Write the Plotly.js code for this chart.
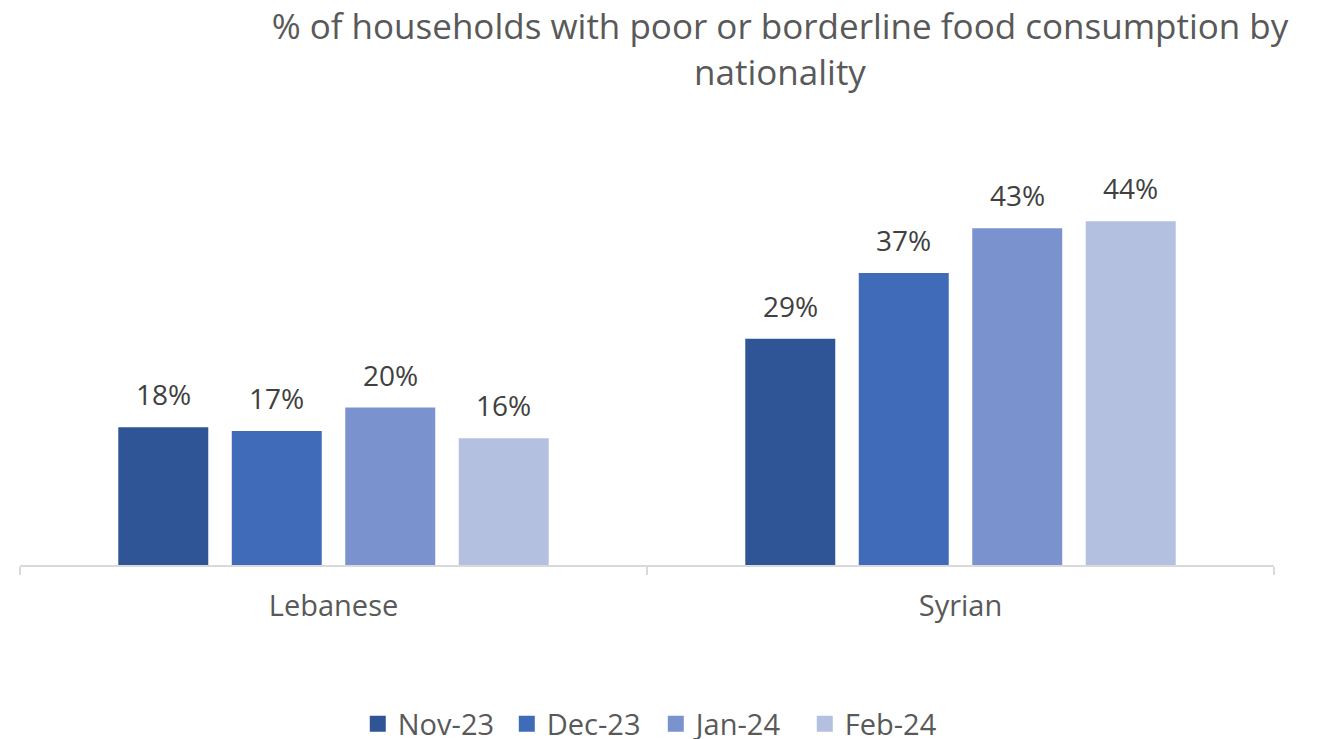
<!DOCTYPE html>
<html><head><meta charset="utf-8">
<script src="https://cdn.plot.ly/plotly-3.0.1.min.js"></script>
<style>html,body{margin:0;padding:0;background:#fff;}#chart{width:1322px;height:739px;}</style>
</head><body><div id="chart"></div>
<script>
const categories = ["Lebanese", "Syrian"];
const seriesNames = ["Nov-23", "Dec-23", "Jan-24", "Feb-24"];
const nov23 = [17.6, 28.9];
const dec23 = [17.1, 37.3];
const jan24 = [20.1, 43.0];
const feb24 = [16.2, 43.9];
const colors = ["#2F5597", "#3F6BB8", "#7A93CF", "#B4C0E0"];
const seriesValues = [nov23, dec23, jan24, feb24];

const bargap = 0.276;
const nSeries = seriesValues.length;
const slot = (1 - bargap) / nSeries;

const traces = seriesValues.map((vals, i) => ({
  type: "bar",
  name: seriesNames[i],
  x: categories,
  y: vals,
  marker: {color: colors[i]},
  showlegend: false,
  hoverinfo: "skip"
}));

// legend entries with larger square swatches
seriesValues.forEach((vals, i) => {
  traces.push({
    type: "scatter", mode: "markers", name: seriesNames[i],
    x: [null], y: [null],
    marker: {symbol: "square", size: 18, color: colors[i]},
    showlegend: true, hoverinfo: "skip"
  });
});

const annotations = [];
seriesValues.forEach((vals, i) => {
  vals.forEach((v, c) => {
    annotations.push({
      x: c + (i - (nSeries - 1) / 2) * slot,
      y: v,
      xref: "x", yref: "y",
      text: Math.round(v) + "%",
      showarrow: false,
      xanchor: "center", yanchor: "bottom", yshift: 12,
      font: {family: "Open Sans", size: 28, color: "#404040"}
    });
  });
});

const layout = {
  width: 1322, height: 739,
  margin: {l: 20, r: 48, t: 150, b: 174, autoexpand: false},
  paper_bgcolor: "#fff", plot_bgcolor: "#fff",
  font: {family: "Open Sans", color: "#595959"},
  title: {
    text: "% of households with poor or borderline food consumption by<br>nationality",
    font: {family: "Open Sans", size: 35, color: "#595959"},
    xref: "container", x: 0.59, xanchor: "center",
    yref: "container", y: 0.947, yanchor: "top"
  },
  barmode: "group",
  bargap: bargap,
  bargroupgap: 0.207,
  showlegend: true,
  legend: {
    orientation: "h", x: 0.507, xanchor: "center", y: -0.383, yanchor: "middle",
    font: {family: "Open Sans", size: 29, color: "#595959"},
    traceorder: "normal", itemwidth: 30, itemsizing: "trace",
    entrywidth: 104, entrywidthmode: "pixels"
  },
  annotations: annotations,
  xaxis: {
    type: "category",
    range: [-0.5, 1.5],
    showline: true, linecolor: "#D9D9D9", linewidth: 2,
    ticks: "outside", tickson: "boundaries", ticklen: 8, tickcolor: "#D9D9D9", tickwidth: 1.5,
    tickfont: {family: "Open Sans", size: 29, color: "#595959"},
    ticklabelstandoff: 14,
    showgrid: false, zeroline: false
  },
  yaxis: {
    range: [0, 53], visible: false, showgrid: false, zeroline: false
  }
};

Plotly.newPlot("chart", traces, layout, {displayModeBar: false, staticPlot: true});
</script></body></html>
